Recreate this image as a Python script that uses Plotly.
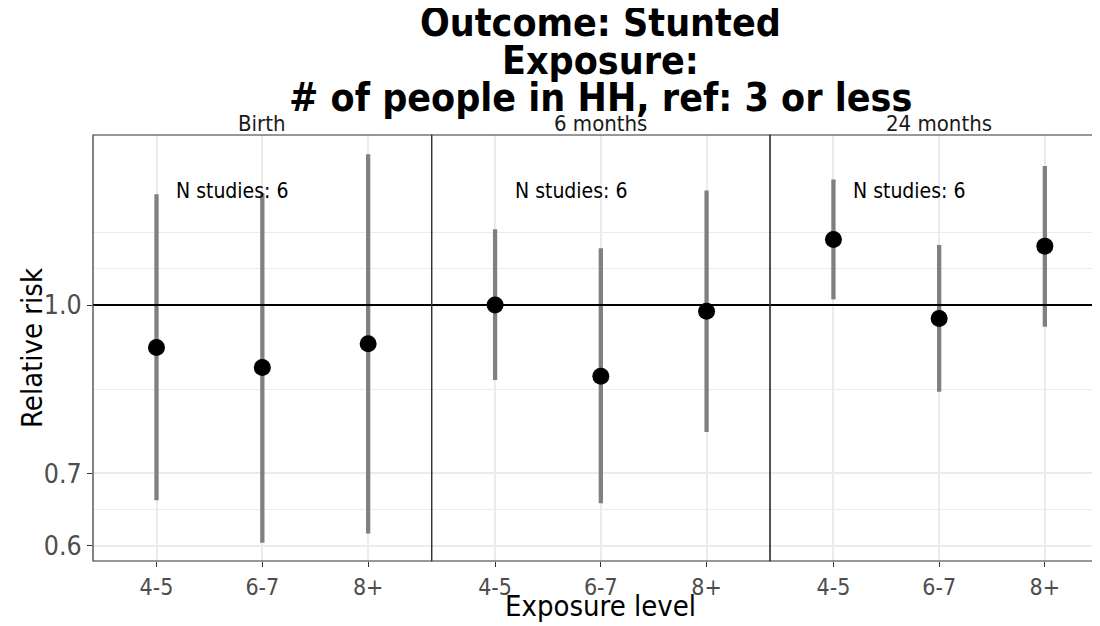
import numpy as np
import plotly.graph_objects as go
from plotly.subplots import make_subplots

# data
levels = ["4-5", "6-7", "8+"]
ages = ["Birth", "6 months", "24 months"]
rr_birth = [0.914, 0.876, 0.921]
lo_birth = [0.661, 0.604, 0.616]
hi_birth = [1.265, 1.268, 1.377]
rr_6m = [1.000, 0.860, 0.987]
lo_6m = [0.853, 0.657, 0.764]
hi_6m = [1.174, 1.128, 1.275]
rr_24m = [1.149, 0.972, 1.133]
lo_24m = [1.012, 0.832, 0.955]
hi_24m = [1.305, 1.136, 1.343]
n_studies = [6, 6, 6]

y_ticks = [0.6, 0.7, 1.0]
y_ticktext = ["0.6", "0.7", "1.0"]
y_minor = [0.648, 0.836, 1.081, 1.166]

title_lines = ["Outcome: Stunted", "Exposure:", "# of people in HH, ref: 3 or less"]

FONT = "DejaVu Sans Condensed, DejaVu Sans"
est = [rr_birth, rr_6m, rr_24m]
low = [lo_birth, lo_6m, lo_24m]
high = [hi_birth, hi_6m, hi_24m]

fig = make_subplots(rows=1, cols=3, shared_yaxes=True, horizontal_spacing=0)

for i in range(3):
    e = np.array(est[i])
    l = np.array(low[i])
    h = np.array(high[i])
    fig.add_trace(go.Scatter(
        x=levels, y=e, mode="markers",
        marker=dict(color="black", size=17),
        error_y=dict(type="data", symmetric=False, array=h - e, arrayminus=e - l,
                     color="#808080", thickness=4.3, width=0),
        showlegend=False), row=1, col=i + 1)
    fig.add_hline(y=1, line=dict(color="black", width=2), row=1, col=i + 1)

# facets; the last one runs off the right edge like in the reference
doms = [[0, 0.339], [0.339, 0.6777], [0.6777, 1.0]]
xr = [[-0.6, 2.6], [-0.6, 2.6], [-0.6, 2.446]]
for i in range(3):
    fig.update_xaxes(domain=doms[i], range=xr[i], type="category",
                     showgrid=True, gridcolor="#EBEBEB", gridwidth=1.5,
                     ticks="outside", ticklen=5, tickcolor="#333333", tickwidth=1.1,
                     tickfont=dict(family=FONT, size=23, color="#4D4D4D"),
                     showline=False, zeroline=False, row=1, col=i + 1)
    fig.update_yaxes(type="log",
                     range=[np.log10(0.5812), np.log10(1.434)],
                     tickmode="array", tickvals=y_ticks, ticktext=y_ticktext,
                     showgrid=True, gridcolor="#EBEBEB", gridwidth=1.6,
                     minor=dict(tickmode="array", tickvals=y_minor, showgrid=True,
                                gridcolor="#EBEBEB", gridwidth=0.8, ticks=""),
                     showline=False, zeroline=False,
                     row=1, col=i + 1)

fig.update_yaxes(ticks="outside", ticklen=5, tickcolor="#333333", tickwidth=1.1,
                 tickfont=dict(family=FONT, size=26.5, color="#4D4D4D"), row=1, col=1)
fig.update_yaxes(showticklabels=False, ticks="", row=1, col=2)
fig.update_yaxes(showticklabels=False, ticks="", row=1, col=3)

# panel borders (right side of the last panel is off screen)
for x0, x1 in doms:
    fig.add_shape(type="rect", xref="paper", yref="paper", x0=x0, x1=x1 + (0.01 if x1 == 1.0 else 0),
                  y0=0, y1=1, line=dict(color="#333333", width=1.2),
                  fillcolor="rgba(0,0,0,0)", layer="above")

# positions below are screen pixels of the reference, plot area 93..1092 x 135..561
def px(sx):
    return (sx - 93) / 999


def py(sy):
    return (561 - sy) / 426


anns = []
xrefs = ["x", "x2", "x3"]
for i in range(3):
    anns.append(dict(text=ages[i], x=1, y=py(123), xref=xrefs[i], yref="paper",
                     showarrow=False, xanchor="center", yanchor="middle",
                     font=dict(family=FONT, size=22, color="#1A1A1A")))
    anns.append(dict(text="N studies: %d" % n_studies[i], x=0.17, y=py(190.5),
                     xref=xrefs[i], yref="paper", showarrow=False,
                     xanchor="left", yanchor="middle",
                     font=dict(family=FONT, size=21, color="black")))

title_px = [22, 60, 97]
for txt, sy in zip(title_lines, title_px):
    anns.append(dict(text="<b>%s</b>" % txt, x=px(600), y=py(sy),
                     xref="paper", yref="paper", showarrow=False,
                     xanchor="center", yanchor="middle",
                     font=dict(family=FONT, size=39, color="black")))

anns.append(dict(text="Relative risk", x=px(32), y=0.5, xref="paper", yref="paper",
                 textangle=-90, showarrow=False, xanchor="center", yanchor="middle",
                 font=dict(family=FONT, size=29, color="black")))
anns.append(dict(text="Exposure level", x=px(600), y=py(606),
                 xref="paper", yref="paper", showarrow=False,
                 xanchor="center", yanchor="middle",
                 font=dict(family=FONT, size=29, color="black")))

fig.update_layout(
    width=1084, height=626,
    margin=dict(l=85, r=0, t=127, b=73),
    paper_bgcolor="white", plot_bgcolor="white",
    annotations=anns,
    showlegend=False,
)

fig.write_html("out.html")
